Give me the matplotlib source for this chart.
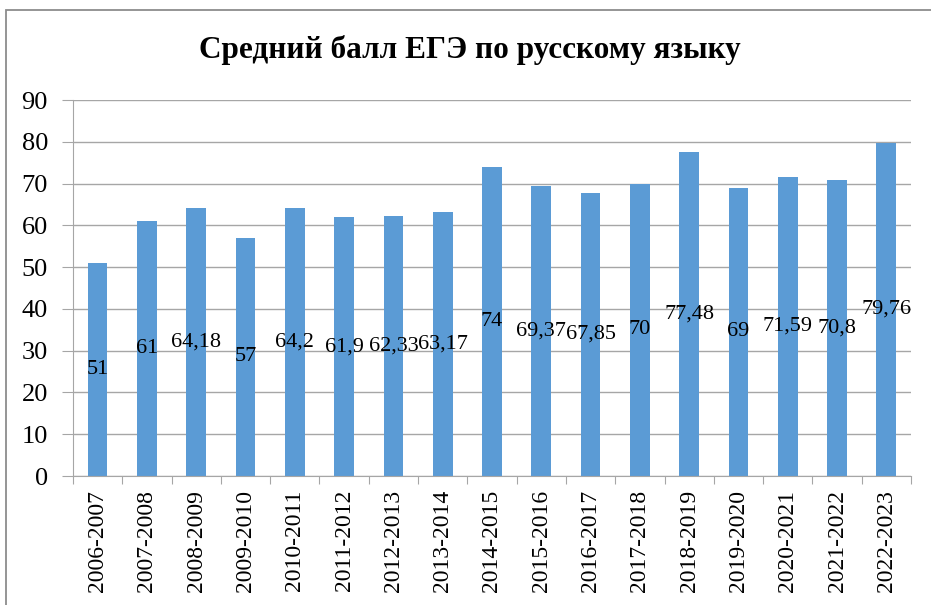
import matplotlib
matplotlib.use("Agg")
import matplotlib.pyplot as plt
from matplotlib.patches import Rectangle

plt.rcParams['font.family'] = ['Liberation Serif', 'DejaVu Serif']

years = ['2006-2007', '2007-2008', '2008-2009', '2009-2010', '2010-2011',
         '2011-2012', '2012-2013', '2013-2014', '2014-2015', '2015-2016',
         '2016-2017', '2017-2018', '2018-2019', '2019-2020', '2020-2021',
         '2021-2022', '2022-2023']
scores = [51, 61, 64.18, 57, 64.2, 61.9, 62.33, 63.17, 74, 69.37,
          67.85, 70, 77.48, 69, 71.59, 70.8, 79.76]
labels = ['51', '61', '64,18', '57', '64,2', '61,9', '62,33', '63,17', '74',
          '69,37', '67,85', '70', '77,48', '69', '71,59', '70,8', '79,76']

fig = plt.figure(figsize=(9.31, 6.05), dpi=100)
ax = fig.add_axes([0.0784, 0.2132, 0.9001, 0.6215])

# outer chart frame
fig.patches.append(Rectangle((6/931, -0.05), 1.1, 1 - 10/605 + 0.05,
                             transform=fig.transFigure, fill=False,
                             edgecolor='#8c8c8c', lw=1.3))

x = range(len(years))
ax.bar(x, scores, width=0.4, color='#5B9BD5', zorder=2)
for i, v in enumerate(scores):
    ax.text(i, v / 2, labels[i], ha='center', va='center', fontsize=16,
            color='black', zorder=3)

ax.set_xlim(-0.5, len(years) - 0.5)
ax.set_ylim(0, 90)
ax.set_yticks(range(0, 91, 10))
ax.yaxis.grid(True, color='#a6a6a6', lw=1)
ax.set_axisbelow(True)
ax.tick_params(axis='y', labelsize=19, length=8, color='#a6a6a6', pad=10)

ax.set_xticks([i + 0.5 for i in range(-1, len(years))])
ax.set_xticklabels([])
ax.set_xticks(list(x), minor=True)
ax.set_xticklabels(years, minor=True, rotation=90, fontsize=17)
ax.tick_params(axis='x', which='major', length=6, color='#a6a6a6')
ax.tick_params(axis='x', which='minor', length=0, pad=10)

for s in ['top', 'right']:
    ax.spines[s].set_visible(False)
for s in ['left', 'bottom']:
    ax.spines[s].set_color('#a6a6a6')

fig.text(0.505, 1 - 50/605, 'Средний балл ЕГЭ по русскому языку', ha='center',
         va='center', fontsize=22.5, fontweight='bold')

fig.savefig('out.png', dpi=100)
